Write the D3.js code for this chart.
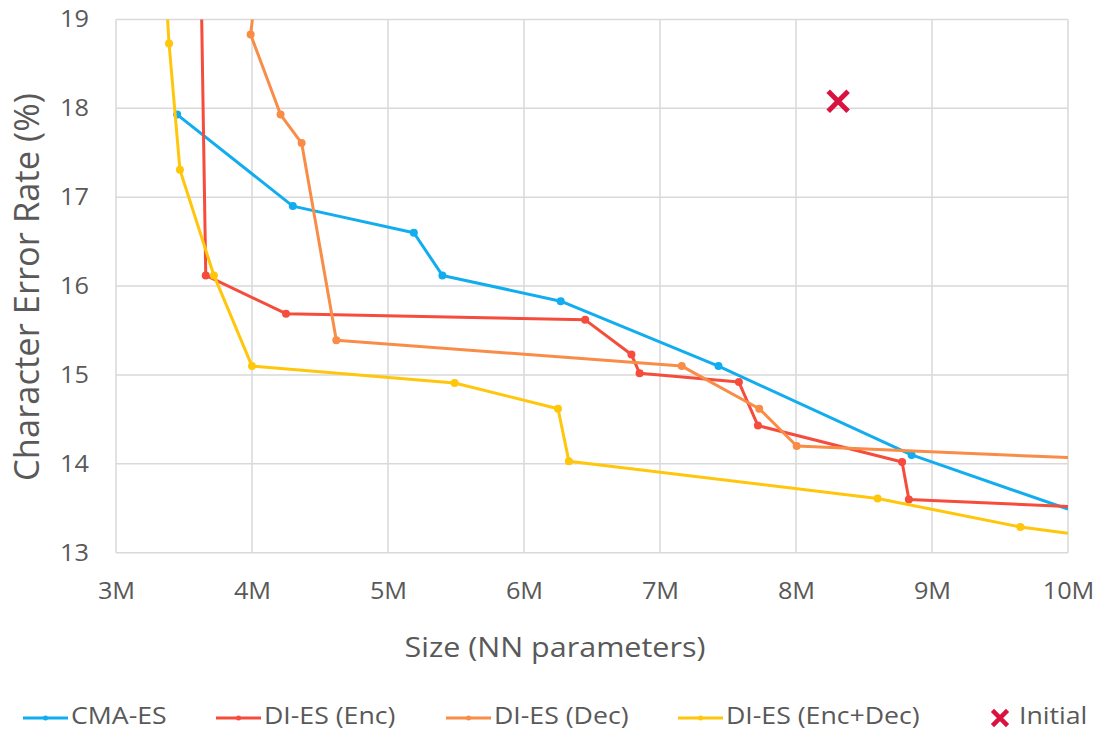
<!DOCTYPE html>
<html><head><meta charset="utf-8">
<script src="https://cdn.jsdelivr.net/npm/d3@7"></script>
<style>body{margin:0;background:#fff}</style>
</head><body>
<svg id="chart" width="1099" height="733"></svg>
<script>
// ---- data ----
const xTicks = [3, 4, 5, 6, 7, 8, 9, 10];
const xTickLabels = ["3M", "4M", "5M", "6M", "7M", "8M", "9M", "10M"];
const yTicks = [13, 14, 15, 16, 17, 18, 19];

const cmaX = [3.45, 4.30, 5.19, 5.40, 6.27, 7.43, 8.85, 10.0];
const cmaY = [17.93, 16.90, 16.60, 16.12, 15.83, 15.10, 14.10, 13.49];

const encX = [3.625, 3.66, 4.25, 6.45, 6.79, 6.85, 7.58, 7.72, 8.78, 8.83, 10.0];
const encY = [19.5, 16.12, 15.69, 15.62, 15.23, 15.02, 14.92, 14.43, 14.02, 13.60, 13.52];

const decX = [4.04, 3.99, 4.21, 4.365, 4.62, 7.16, 7.73, 8.005, 10.0];
const decY = [19.5, 18.83, 17.93, 17.61, 15.39, 15.10, 14.62, 14.20, 14.07];

const ecdX = [3.36, 3.39, 3.47, 3.72, 4.00, 5.49, 6.25, 6.33, 8.60, 9.65, 10.0];
const ecdY = [19.5, 18.73, 17.31, 16.12, 15.10, 14.91, 14.62, 14.03, 13.61, 13.29, 13.22];

const initialX = [8.31];
const initialY = [18.08];

const seriesNames = ["CMA-ES", "DI-ES (Enc)", "DI-ES (Dec)", "DI-ES (Enc+Dec)"];
const seriesColors = ["#12ADEF", "#F64C3C", "#F98C46", "#FFC60B"];
const initialName = "Initial";
const initialColor = "#D9123F";

// ---- layout ----
const W = 1099, H = 733;
const m = {left: 116, right: 31, top: 19.5, bottom: 180.3};
const svg = d3.select("#chart");
const font = "'Open Sans', 'Noto Sans', sans-serif";
const grey = "#595959";

const x = d3.scaleLinear().domain([3, 10]).range([m.left, W - m.right]);
const y = d3.scaleLinear().domain([13, 19]).range([H - m.bottom, m.top]);

// grid
const grid = svg.append("g");
grid.selectAll("line.v").data(xTicks).join("line")
  .attr("x1", d => x(d)).attr("x2", d => x(d))
  .attr("y1", y(13)).attr("y2", y(19))
  .attr("stroke", "#d9d9d9").attr("stroke-width", 1.5);
grid.selectAll("line.h").data(yTicks).join("line")
  .attr("y1", d => y(d)).attr("y2", d => y(d))
  .attr("x1", x(3)).attr("x2", x(10))
  .attr("stroke", "#d9d9d9").attr("stroke-width", 1.5);

// axes (labels only), text slightly widened like the original
const tickSX = 1.1;
const xAxis = svg.append("g").attr("transform", `translate(0,${y(13)})`)
  .call(d3.axisBottom(x).tickValues(xTicks).tickFormat((d, i) => xTickLabels[i]).tickSize(0).tickPadding(30));
xAxis.select(".domain").remove();
xAxis.selectAll("text").attr("font-family", font).attr("font-size", 23).attr("fill", grey)
  .attr("transform", `scale(${tickSX},1)`);

const yAxis = svg.append("g").attr("transform", `translate(${x(3)},0)`)
  .call(d3.axisLeft(y).tickValues(yTicks).tickFormat(d3.format("d")).tickSize(0).tickPadding(27));
yAxis.select(".domain").remove();
yAxis.selectAll("text").attr("font-family", font).attr("font-size", 23).attr("fill", grey)
  .attr("x", -27 / tickSX).attr("transform", `scale(${tickSX},1)`);

// axis titles
svg.append("text").attr("transform", `translate(555,650) scale(1.13,1)`)
  .attr("text-anchor", "middle").attr("dominant-baseline", "middle")
  .attr("font-family", font).attr("font-size", 27).attr("fill", grey)
  .text("Size (NN parameters)");
svg.append("text").attr("transform", `translate(30,287) rotate(-90)`)
  .attr("text-anchor", "middle").attr("dominant-baseline", "middle")
  .attr("font-family", font).attr("font-size", 34.5).attr("fill", grey)
  .text("Character Error Rate (%)");

// clip
svg.append("clipPath").attr("id", "clip").append("rect")
  .attr("x", x(3)).attr("y", y(19)).attr("width", x(10) - x(3)).attr("height", y(13) - y(19));

const series = [
  {xs: cmaX, ys: cmaY},
  {xs: encX, ys: encY},
  {xs: decX, ys: decY},
  {xs: ecdX, ys: ecdY}
];
const line = d3.line().x(d => x(d[0])).y(d => y(d[1]));
const plot = svg.append("g").attr("clip-path", "url(#clip)");
series.forEach((s, i) => {
  const pts = s.xs.map((v, j) => [v, s.ys[j]]);
  plot.append("path").datum(pts).attr("d", line)
    .attr("fill", "none").attr("stroke", seriesColors[i]).attr("stroke-width", 3)
    .attr("stroke-linejoin", "round");
  plot.selectAll(null).data(pts.filter(p => p[0] < 10 && p[1] < 19)).join("circle")
    .attr("cx", d => x(d[0])).attr("cy", d => y(d[1])).attr("r", 4)
    .attr("fill", seriesColors[i]);
});

// initial marker
const cross = d3.symbol().type(d3.symbolX).size(260);
plot.selectAll(null).data(initialX.map((v, j) => [v, initialY[j]])).join("path")
  .attr("d", cross).attr("transform", d => `translate(${x(d[0])},${y(d[1])})`)
  .attr("fill", "none").attr("stroke", initialColor).attr("stroke-width", 5);

// legend
const legendY = 718;
const legendLineX = [23, 216, 446, 678];
const legSX = 1.16;
const leg = svg.append("g");
seriesNames.forEach((n, i) => {
  const lx = legendLineX[i];
  leg.append("line").attr("x1", lx).attr("x2", lx + 45).attr("y1", legendY).attr("y2", legendY)
    .attr("stroke", seriesColors[i]).attr("stroke-width", 3);
  leg.append("circle").attr("cx", lx + 22.5).attr("cy", legendY).attr("r", 2.5).attr("fill", seriesColors[i]);
  leg.append("text").attr("transform", `translate(${lx + 48},${legendY}) scale(${legSX},1)`)
    .attr("dominant-baseline", "middle")
    .attr("font-family", font).attr("font-size", 23).attr("fill", grey).text(n);
});
leg.append("path").attr("d", d3.symbol().type(d3.symbolX).size(150))
  .attr("transform", `translate(1000,${legendY})`)
  .attr("fill", "none").attr("stroke", initialColor).attr("stroke-width", 4.5);
leg.append("text").attr("transform", `translate(1019,${legendY}) scale(${legSX},1)`)
  .attr("dominant-baseline", "middle")
  .attr("font-family", font).attr("font-size", 23).attr("fill", grey).text(initialName);
</script>
</body></html>
